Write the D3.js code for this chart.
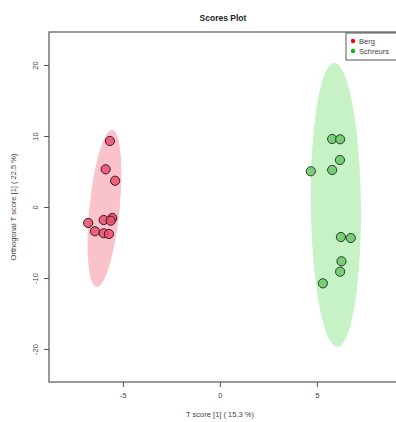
<!DOCTYPE html>
<html>
<head>
<meta charset="utf-8">
<script src="https://cdn.jsdelivr.net/npm/d3@7/dist/d3.min.js"></script>
<style>
  html, body { margin: 0; padding: 0; background: #fff; }
  svg { display: block; font-family: "Liberation Sans", Arial, sans-serif; }
</style>
</head>
<body>
<svg id="chart" width="396" height="422"></svg>
<script>
// Group labels and colours
const groups = ["Berg", "Schreurs"];
const groupColors = ["#ff0000", "#00c000"];

// Predictive score (T score [1]) and orthogonal score per sample
const bergT     = [-5.67, -5.89, -5.40, -6.79, -5.99, -5.55, -5.63, -6.44, -5.99, -5.72];
const bergOrth  = [ 9.30,  5.31,  3.70, -2.25, -1.83, -1.55, -1.93, -3.42, -3.70, -3.80];
const schrT     = [ 5.79,  6.20,  6.19,  4.69,  5.79,  6.24,  6.75,  6.27,  6.20,  5.31];
const schrOrth  = [ 9.58,  9.54,  6.62,  5.03,  5.21, -4.23, -4.37, -7.65, -9.11, -10.75];

// Confidence ellipses: centre, major half-axis vector, minor half-width (score units)
const ellipseCenterX = [-5.95, 5.98];
const ellipseCenterY = [-0.2, 0.3];
const ellipseMajorDX = [0.39, -0.08];
const ellipseMajorDY = [11.06, 20.0];
const ellipseMinorX  = [0.78, 1.29];

// Axis ticks
const xTicks = [-5, 0, 5];
const yTicks = [-20, -10, 0, 10, 20];

const svg = d3.select("#chart");
const margin = { left: 49, top: 32, right: 402, bottom: 382 };

const x = d3.scaleLinear().domain([-8.81, 9.39]).range([margin.left, margin.right]);
const y = d3.scaleLinear().domain([-24.65, 24.65]).range([margin.bottom, margin.top]);

// Ellipses
const fills = ["rgba(245,120,140,0.45)", "rgba(120,225,120,0.42)"];
groups.forEach((g, i) => {
  const pts = d3.range(0, 361, 3).map(deg => {
    const t = deg * Math.PI / 180;
    const dx = ellipseMajorDX[i] * Math.sin(t) + ellipseMinorX[i] * Math.cos(t);
    const dy = ellipseMajorDY[i] * Math.sin(t);
    return [x(ellipseCenterX[i] + dx), y(ellipseCenterY[i] + dy)];
  });
  svg.append("path")
    .attr("d", d3.line()(pts) + "Z")
    .attr("fill", fills[i])
    .attr("stroke", "none");
});

// Points
const pointFill = ["rgba(232,80,110,0.85)", "rgba(105,200,105,0.85)"];
const pointStroke = ["#3a1a20", "#24402a"];
const series = [[bergT, bergOrth], [schrT, schrOrth]];
series.forEach(([xs, ys], i) => {
  svg.append("g").selectAll("circle")
    .data(xs.map((v, k) => [v, ys[k]]))
    .join("circle")
    .attr("cx", d => x(d[0]))
    .attr("cy", d => y(d[1]))
    .attr("r", 4.6)
    .attr("fill", pointFill[i])
    .attr("stroke", pointStroke[i])
    .attr("stroke-width", 1);
});

// Plot box
svg.append("rect")
  .attr("x", margin.left).attr("y", margin.top)
  .attr("width", margin.right - margin.left)
  .attr("height", margin.bottom - margin.top)
  .attr("fill", "none").attr("stroke", "#555").attr("stroke-width", 1.2);

// Axes
const xAxis = svg.append("g")
  .attr("transform", `translate(0,${margin.bottom})`)
  .call(d3.axisBottom(x).tickValues(xTicks).tickSize(5).tickPadding(6).tickFormat(d3.format("d")));
const yAxis = svg.append("g")
  .attr("transform", `translate(${margin.left},0)`)
  .call(d3.axisLeft(y).tickValues(yTicks).tickSize(5).tickPadding(3).tickFormat(d3.format("d")));

[xAxis, yAxis].forEach(a => {
  a.select(".domain").remove();
  a.selectAll(".tick line").attr("stroke", "#555");
  a.selectAll(".tick text").attr("fill", "#444").attr("font-size", 7.5);
});
xAxis.selectAll(".tick text").text(d => d < 0 ? "-" + Math.abs(d) : d);
yAxis.selectAll(".tick text")
  .text(d => d < 0 ? "-" + Math.abs(d) : d)
  .attr("text-anchor", "middle")
  .attr("transform", "translate(-13,0) rotate(-90)")
  .attr("x", 0).attr("dy", "0.32em");

// Titles
svg.append("text")
  .attr("x", 223).attr("y", 21)
  .attr("text-anchor", "middle")
  .attr("font-size", 8.5).attr("font-weight", "bold").attr("fill", "#222")
  .text("Scores Plot");

svg.append("text")
  .attr("x", 220).attr("y", 417)
  .attr("text-anchor", "middle")
  .attr("font-size", 7.5).attr("fill", "#444")
  .text("T score [1] ( 15.3 %)");

svg.append("text")
  .attr("transform", `translate(16,${y(0)}) rotate(-90)`)
  .attr("text-anchor", "middle")
  .attr("font-size", 7.5).attr("fill", "#444")
  .text("Orthogonal T score [1] ( 22.5 %)");

// Legend
const lg = svg.append("g").attr("transform", "translate(346,33)");
lg.append("rect").attr("x", 0).attr("y", 0).attr("width", 60).attr("height", 27)
  .attr("fill", "#fff").attr("stroke", "#555").attr("stroke-width", 1);
groups.forEach((g, i) => {
  lg.append("circle").attr("cx", 7).attr("cy", 8 + i * 10).attr("r", 2.2).attr("fill", groupColors[i]);
  lg.append("text").attr("x", 13).attr("y", 8 + i * 10).attr("dy", "0.35em")
    .attr("font-size", 7.5).attr("fill", "#444").text(g);
});
</script>
</body>
</html>
